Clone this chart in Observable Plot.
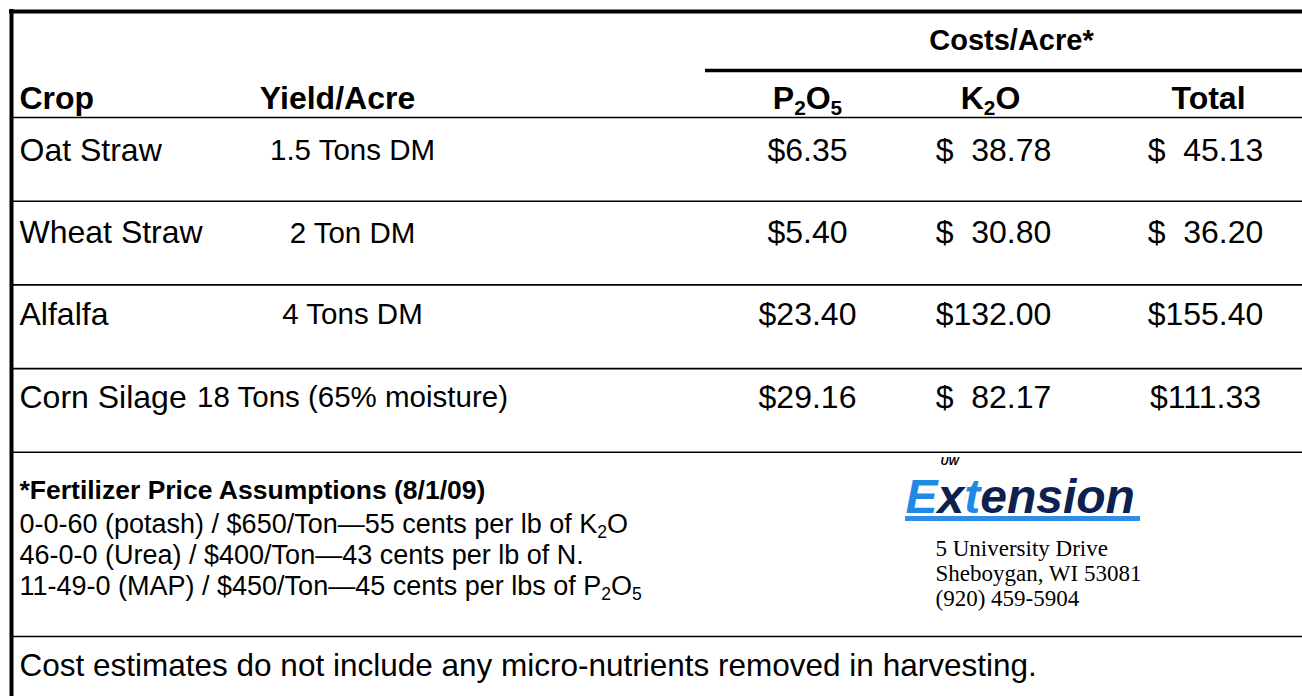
<!DOCTYPE html>
<html>
<head>
<meta charset="utf-8">
<script src="https://cdn.jsdelivr.net/npm/d3@7"></script>
<script src="https://cdn.jsdelivr.net/npm/@observablehq/plot@0.6"></script>
<style>
  html, body { margin: 0; padding: 0; background: #fff; }
  #chart svg { display: block; }
</style>
</head>
<body>
<div id="chart"></div>
<script>
// ---- data ----
const crops = ["Oat Straw", "Wheat Straw", "Alfalfa", "Corn Silage"];
const yields = ["1.5 Tons DM", "2 Ton DM", "4 Tons DM", "18 Tons (65% moisture)"];
const p2o5 = [6.35, 5.40, 23.40, 29.16];
const k2o = [38.78, 30.80, 132.00, 82.17];
const total = [45.13, 36.20, 155.40, 111.33];
const headers = ["Crop", "Yield/Acre", "P{2}O{5}", "K{2}O", "Total"];
const groupHeader = "Costs/Acre*";
const noteTitle = "*Fertilizer Price Assumptions (8/1/09)";
const notes = [
  "0-0-60 (potash) / $650/Ton\u201455 cents per lb of K{2}O",
  "46-0-0 (Urea) / $400/Ton\u201443 cents per lb of N.",
  "11-49-0 (MAP) / $450/Ton\u201445 cents per lbs of P{2}O{5}"
];
const address = ["5 University Drive", "Sheboygan, WI 53081", "(920) 459-5904"];
const footer = "Cost estimates do not include any micro-nutrients removed in harvesting.";

// ---- layout ----
const W = 1302, H = 696;
const colX = {crop: 19, yield: 352, p: 807, k: 993, t: 1205};
const headerY = 98, rowTop0 = 117, pitch = 83.7;
const rowTextOffset = [33, 32, 30, 29];
const FS = "Liberation Sans, Arial, Helvetica, sans-serif";
const pad = v => { const s = v.toFixed(2); return "$" + "\u00a0".repeat(2 * Math.max(0, 6 - s.length)) + s; };

const rows = crops.map((c, i) => ({
  crop: c, yield: yields[i],
  p: "$" + p2o5[i].toFixed(2), k: pad(k2o[i]), t: pad(total[i]),
  y: rowTop0 + i * pitch + rowTextOffset[i]
}));
const rowLines = crops.map((c, i) => rowTop0 + (i + 1) * pitch);
const hdrMid = [
  {s: headers[1], x: 337},
  {s: headers[2], x: colX.p},
  {s: headers[3], x: colX.k - 3},
  {s: headers[4], x: colX.t + 3}
];
const noteLines = notes.map((s, i) => ({s, y: 524 + i * 31}));
const addrLines = address.map((s, i) => ({s, y: 548 + i * 25}));

const common = {fontFamily: FS, fill: "black", lineAnchor: "middle"};
const plot = Plot.plot({
  width: W, height: H, margin: 0,
  x: {domain: [0, W], range: [0, W], axis: null},
  y: {domain: [0, H], range: [0, H], axis: null},
  style: {background: "white"},
  marks: [
    // borders and rules
    Plot.ruleY([11], {x1: 9, x2: W, stroke: "black", strokeWidth: 4}),
    Plot.ruleX([11], {y1: 9, y2: H, stroke: "black", strokeWidth: 4}),
    Plot.ruleY([70], {x1: 705, x2: W, stroke: "black", strokeWidth: 3.5}),
    Plot.ruleY([rowTop0], {x1: 11, x2: W, stroke: "black", strokeWidth: 1.6}),
    Plot.ruleY(rowLines, {x1: 11, x2: W, stroke: "black", strokeWidth: 1.6}),
    Plot.ruleY([636], {x1: 11, x2: W, stroke: "black", strokeWidth: 1.6}),
    // header
    Plot.text([groupHeader], {x: 1011, y: 40, text: d => d, textAnchor: "middle", fontSize: 29, fontWeight: "bold", ...common}),
    Plot.text([headers[0]], {x: colX.crop, y: headerY, text: d => d, textAnchor: "start", fontSize: 32, fontWeight: "bold", ...common}),
    Plot.text(hdrMid, {x: "x", y: headerY, text: "s", textAnchor: "middle", fontSize: 32, fontWeight: "bold", ...common}),
    // body
    Plot.text(rows, {x: colX.crop, y: "y", text: "crop", textAnchor: "start", fontSize: 32, ...common}),
    Plot.text(rows, {x: colX.yield, y: "y", text: "yield", textAnchor: "middle", fontSize: 29.5, ...common}),
    Plot.text(rows, {x: colX.p, y: "y", text: "p", textAnchor: "middle", fontSize: 32, ...common}),
    Plot.text(rows, {x: colX.k, y: "y", text: "k", textAnchor: "middle", fontSize: 32, ...common}),
    Plot.text(rows, {x: colX.t, y: "y", text: "t", textAnchor: "middle", fontSize: 32, ...common}),
    // notes
    Plot.text([noteTitle], {x: colX.crop, y: 490, text: d => d, textAnchor: "start", fontSize: 26.5, fontWeight: "bold", ...common}),
    Plot.text(noteLines, {x: colX.crop, y: "y", text: "s", textAnchor: "start", fontSize: 27, ...common}),
    Plot.text(addrLines, {x: 935, y: "y", text: "s", textAnchor: "start", fontSize: 23, ...common, fontFamily: "Liberation Serif, Times New Roman, serif"}),
    // logo
    Plot.rect([0], {x1: 905, x2: 1140, y1: 516, y2: 521, fill: "#2f8fe6"}),
    Plot.text(["E{x}t{ension}"], {x: 905, y: 497, text: d => d, textAnchor: "start", fontSize: 48, fontWeight: "bold", fontStyle: "italic", ...common, fill: "#1f8ae3"}),
    Plot.text(["UW"], {x: 940, y: 461, text: d => d, textAnchor: "start", fontSize: 11, fontWeight: "bold", fontStyle: "italic", ...common}),
    // footer
    Plot.text([footer], {x: colX.crop, y: 665, text: d => d, textAnchor: "start", fontSize: 31.5, ...common})
  ]
});

// subscripts / logo colouring via tspans
d3.select(plot).selectAll("text").each(function () {
  const t = this.textContent;
  if (!t.includes("{")) return;
  const isLogo = t.startsWith("E{x}");
  const el = d3.select(this);
  el.text(null);
  const parts = t.split(/(\{[^}]*\})/).filter(s => s.length);
  let shifted = false;
  parts.forEach(p => {
    if (p.startsWith("{")) {
      const s = p.slice(1, -1);
      if (isLogo) {
        el.append("tspan").attr("fill", "#0d2150").text(s);
      } else {
        el.append("tspan").attr("font-size", "0.65em").attr("dy", shifted ? null : "0.3em").text(s);
        shifted = true;
      }
    } else {
      const ts = el.append("tspan").text(p);
      if (shifted) { ts.attr("dy", "-0.195em"); shifted = false; }
    }
  });
});

document.getElementById("chart").append(plot);
</script>
</body>
</html>
